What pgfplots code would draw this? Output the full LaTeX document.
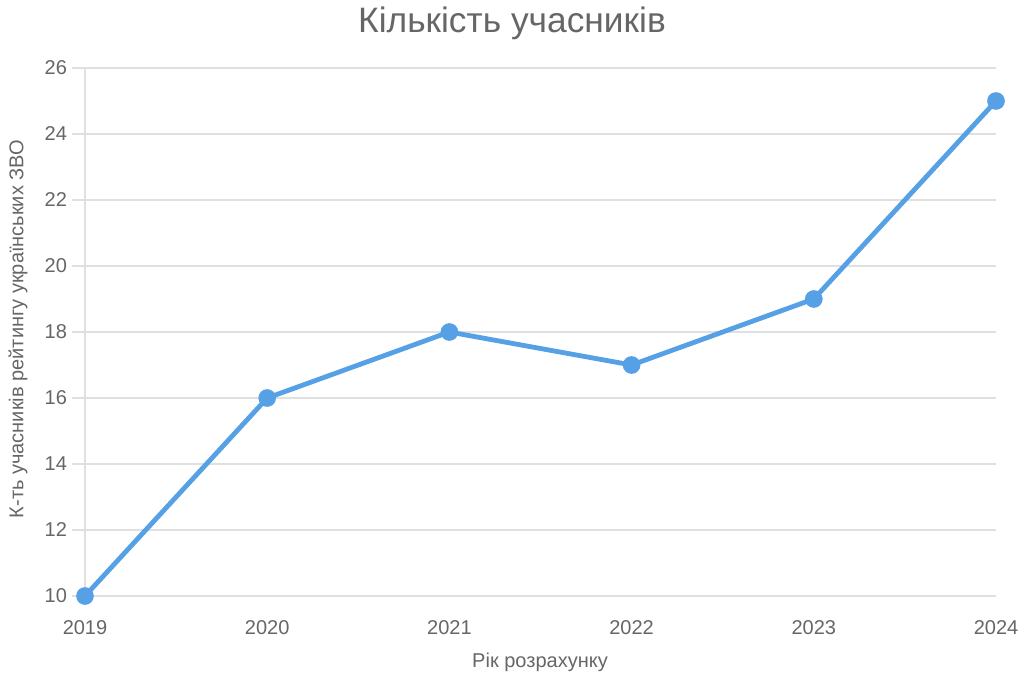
\documentclass[border=0pt]{standalone}
\usepackage{pgfplots}
\pgfplotsset{compat=1.18}
\usepackage{fontspec}
\setmainfont{Liberation Sans}
\definecolor{txt}{HTML}{666666}
\definecolor{gridc}{HTML}{E0E0E0}
\definecolor{linec}{HTML}{56A0E6}
\begin{document}
\begin{tikzpicture}[x=0.75pt,y=0.75pt]
\begin{axis}[
  at={(0,0)}, anchor=south west,
  scale only axis,
  width=683.25pt, height=396pt,
  xmin=2019, xmax=2024,
  ymin=10, ymax=26,
  xtick={2019,2020,2021,2022,2023,2024},
  ytick={10,12,...,26},
  xticklabel style={/pgf/number format/1000 sep={}, yshift=-5pt},
  /pgf/number format/assume math mode=true,
  axis lines*=left,
  axis line style={draw=gridc, line width=0.9pt},
  ymajorgrids,
  grid style={draw=gridc, line width=0.9pt},
  tick align=outside,
  major tick length=10pt,
  ytick style={draw=gridc, line width=0.9pt},
  xtick style={draw=none},
  ticklabel style={font=\fontsize{15}{18}\selectfont, text=txt},
  clip=false,
]
\addplot[color=linec, line width=3.6pt, mark=*, mark size=4.8pt, mark options={fill=linec, draw=none}]
  coordinates {(2019,10) (2020,16) (2021,18) (2022,17) (2023,19) (2024,25)};
\end{axis}
\node[text=txt, font=\fontsize{26.5}{30}\selectfont] at (427,573) {Кількість учасників};
\node[text=txt, font=\fontsize{15}{18}\selectfont, rotate=90] at (-67,267) {К-ть учасників рейтингу українських ЗВО};
\node[text=txt, font=\fontsize{15}{18}\selectfont] at (455,-66) {Рік розрахунку};
\useasboundingbox (-85,-87) rectangle (939,596);
\end{tikzpicture}
\end{document}
